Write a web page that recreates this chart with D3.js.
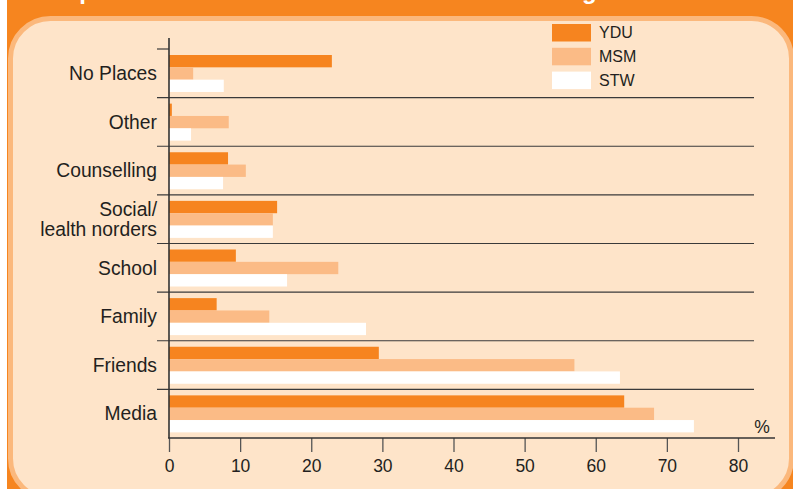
<!DOCTYPE html>
<html><head><meta charset="utf-8">
<script src="https://cdn.jsdelivr.net/npm/d3@7"></script>
<style>html,body{margin:0;padding:0;background:#fff;}svg{display:block;font-family:Arial,"Liberation Sans",Helvetica,sans-serif;}</style>
</head><body><div id="chart"></div>
<script>
const categories = ["No Places","Other","Counselling","Social/\nlealth norders","School","Family","Friends","Media"];
const seriesNames = ["YDU","MSM","STW"];
const ydu = [22.9, 0.4, 8.3, 15.2, 9.4, 6.7, 29.5, 64.0];
const msm = [3.4, 8.4, 10.8, 14.6, 23.8, 14.1, 57.0, 68.2];
const stw = [7.7, 3.1, 7.6, 14.6, 16.6, 27.7, 63.4, 73.8];
const xTicks = [0,10,20,30,40,50,60,70,80];
const colors = ["#F6841F","#FBBB86","#FFFFFF"];
const titleText = "Graph 3: Main sources of information about drugs and services";

const W = 793, H = 489;
const svg = d3.select("#chart").append("svg").attr("width", W).attr("height", H);

// background
svg.append("rect").attr("x",0).attr("y",0).attr("width",W).attr("height",H).attr("fill","#fff");
svg.append("rect").attr("x",7).attr("y",0).attr("width",W-7).attr("height",H).attr("fill","#F6851F");
svg.append("text").attr("x",400).attr("y",-1).attr("text-anchor","middle")
  .attr("fill","#fff").attr("font-weight","bold").attr("font-size",24).text(titleText);
svg.append("rect").attr("x",10.5).attr("y",18.5).attr("width",781).attr("height",480).attr("rx",40)
  .attr("fill","#FEE4C9").attr("stroke","#FBB87C").attr("stroke-width",5);

const x = d3.scaleLinear().domain([0,80]).range([169,738]);
const y = d3.scaleBand().domain(categories).range([49,438]).padding(0);
const yInner = d3.scaleBand().domain(seriesNames).range([6,43]).padding(0);

const data = categories.map((c,i)=>({cat:c, vals:[ydu[i],msm[i],stw[i]]}));

// bars
const g = svg.append("g");
data.forEach(d=>{
  d.vals.forEach((v,j)=>{
    g.append("rect").attr("x",x(0)).attr("y",y(d.cat)+yInner(seriesNames[j]))
      .attr("width",x(v)-x(0)).attr("height",yInner.bandwidth()).attr("fill",colors[j]);
  });
});

// separators
const lineCol = "#3a3a3a";
categories.forEach((c,i)=>{
  const yy = y(c);
  svg.append("line").attr("x1",157).attr("x2", i===0 ? 169 : 754).attr("y1",yy).attr("y2",yy)
    .attr("stroke",lineCol).attr("stroke-width",1.2);
});

// vertical axis line
svg.append("line").attr("x1",169).attr("x2",169).attr("y1",38).attr("y2",438)
  .attr("stroke","#333").attr("stroke-width",1.6);

// x axis
const xAxis = d3.axisBottom(x).tickValues(xTicks).tickSize(14).tickPadding(8).tickFormat(d3.format("d"));
const ax = svg.append("g").attr("transform","translate(0,438)").call(xAxis);
ax.select(".domain").remove();
ax.selectAll(".tick line").attr("stroke","#555").attr("stroke-width",1.3);
ax.selectAll(".tick text").attr("font-size",17.5).attr("fill","#231F20")
  .attr("font-family","Arial, 'Liberation Sans', sans-serif");
svg.append("line").attr("x1",168).attr("x2",775).attr("y1",438).attr("y2",438)
  .attr("stroke","#333").attr("stroke-width",1.6);
svg.append("text").attr("x",762).attr("y",433).attr("text-anchor","middle")
  .attr("font-size",17.5).attr("fill","#231F20").text("%");

// category labels
categories.forEach(c=>{
  const lines = c.split("\n");
  const cy = y(c) + y.bandwidth()/2;
  const t = svg.append("text").attr("text-anchor","end").attr("font-size",19.3).attr("fill","#231F20");
  lines.forEach((ln,k)=>{
    t.append("tspan").attr("x",157).attr("y", cy + (k-(lines.length-1)/2)*20 ).attr("dy","0.35em").text(ln);
  });
});

// legend
seriesNames.forEach((s,j)=>{
  const ly = 24 + j*23.8;
  svg.append("rect").attr("x",552).attr("y",ly).attr("width",39).attr("height",17.5).attr("fill",colors[j]);
  svg.append("text").attr("x",599).attr("y",ly+8.8).attr("dy","0.35em").attr("font-size",16)
    .attr("fill","#231F20").text(s);
});
</script></body></html>
